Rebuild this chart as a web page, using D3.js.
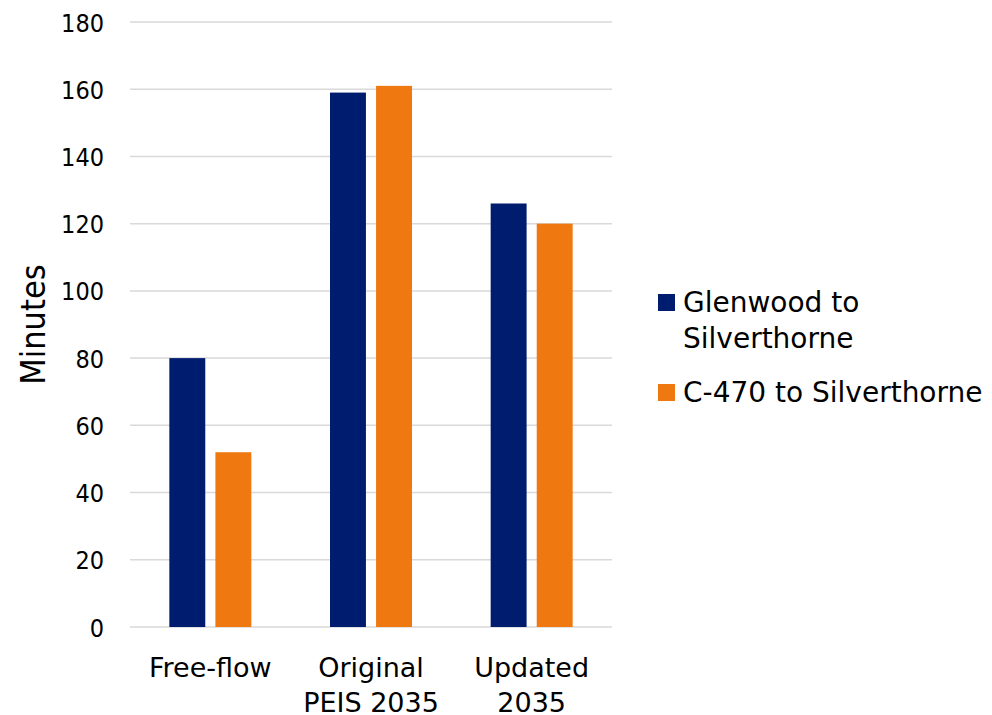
<!DOCTYPE html>
<html>
<head>
<meta charset="utf-8">
<script src="https://cdn.jsdelivr.net/npm/d3@7"></script>
<style>
  body { margin: 0; background: #fff; }
  svg text { font-family: "DejaVu Sans", sans-serif; fill: #000; }
</style>
</head>
<body>
<div id="chart"></div>
<script>
// data
const categories = [["Free-flow"], ["Original", "PEIS 2035"], ["Updated", "2035"]];
const seriesNames = ["Glenwood to Silverthorne", "C-470 to Silverthorne"];
const glenwood = [80, 159, 126];
const c470 = [52, 161, 120];
const yTicks = [0, 20, 40, 60, 80, 100, 120, 140, 160, 180];
const colors = ["#001c6e", "#ef7811"];

const W = 992, H = 715;
const margin = { top: 22, right: 380, bottom: 88, left: 130 };
const width = W - margin.left - margin.right;
const height = H - margin.top - margin.bottom;

const svg = d3.select("#chart")
    .append("svg")
    .attr("width", W)
    .attr("height", H);

const g = svg.append("g")
    .attr("transform", `translate(${margin.left},${margin.top})`);

const x0 = d3.scaleBand()
    .domain(d3.range(categories.length))
    .range([0, width]);

const x1 = d3.scaleBand()
    .domain([0, 1])
    .range([x0.bandwidth() / 2 - 41, x0.bandwidth() / 2 + 41])
    .paddingInner(0.22);

const y = d3.scaleLinear()
    .domain([0, 180])
    .range([height, 0]);

// gridlines
g.append("g")
    .selectAll("line")
    .data(yTicks)
    .enter()
    .append("line")
    .attr("x1", 0)
    .attr("x2", width)
    .attr("y1", d => y(d))
    .attr("y2", d => y(d))
    .attr("stroke", "#d9d9d9")
    .attr("stroke-width", 1.5);

// y axis labels
const yAxis = g.append("g")
    .call(d3.axisLeft(y).tickValues(yTicks).tickSize(0).tickPadding(26));
yAxis.select(".domain").remove();
yAxis.selectAll("text")
    .style("font-family", "'DejaVu Sans Condensed', 'DejaVu Sans', sans-serif")
    .style("font-size", "25px")
    .attr("dy", "0.36em");

// bars
const data = [glenwood, c470];
categories.forEach((c, i) => {
    data.forEach((s, j) => {
        g.append("rect")
            .attr("x", x0(i) + x1(j))
            .attr("y", y(s[i]))
            .attr("width", x1.bandwidth())
            .attr("height", height - y(s[i]))
            .attr("fill", colors[j]);
    });
});

// category labels
categories.forEach((c, i) => {
    const t = g.append("text")
        .attr("x", x0(i) + x0.bandwidth() / 2)
        .attr("y", height + 50)
        .style("text-anchor", "middle")
        .style("font-size", "27px");
    c.forEach((line, k) => {
        t.append("tspan")
            .attr("x", x0(i) + x0.bandwidth() / 2)
            .attr("dy", k === 0 ? 0 : 35)
            .text(line);
    });
});

// y axis title
g.append("text")
    .attr("transform", `translate(${45 - margin.left},${height / 2}) rotate(-90)`)
    .style("text-anchor", "middle")
    .style("font-family", "'DejaVu Sans Condensed', 'DejaVu Sans', sans-serif")
    .style("font-size", "34px")
    .text("Minutes");

// legend
const legend = svg.append("g")
    .attr("transform", "translate(658,294)");
const legendLines = [["Glenwood to", "Silverthorne"], ["C-470 to Silverthorne"]];
const legendY = [0, 90];
legendLines.forEach((lines, j) => {
    legend.append("rect")
        .attr("x", 0)
        .attr("y", legendY[j])
        .attr("width", 17)
        .attr("height", 17)
        .attr("fill", colors[j]);
    const t = legend.append("text")
        .attr("x", 25)
        .attr("y", legendY[j] + 18)
        .style("font-size", "28px");
    lines.forEach((line, k) => {
        t.append("tspan")
            .attr("x", 25)
            .attr("dy", k === 0 ? 0 : 36)
            .text(line);
    });
});
</script>
</body>
</html>
